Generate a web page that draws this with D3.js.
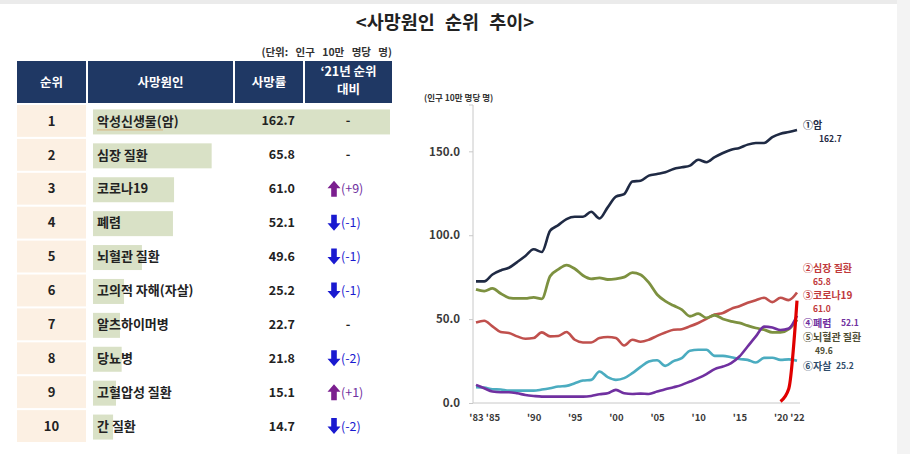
<!DOCTYPE html>
<html>
<head>
<meta charset="utf-8">
<script src="https://cdn.jsdelivr.net/npm/d3@7"></script>
<style>
  body { margin: 0; background: #fff; }
  svg { display: block; font-family: "Noto Sans CJK KR", "Noto Sans", sans-serif; }
</style>
</head>
<body>
<div id="chart"></div>
<script>
'use strict';

// ---- table data ----
const ranks = [1, 2, 3, 4, 5, 6, 7, 8, 9, 10];
const causes = ["악성신생물(암)", "심장 질환", "코로나19", "폐렴", "뇌혈관 질환",
    "고의적 자해(자살)", "알츠하이머병", "당뇨병", "고혈압성 질환", "간 질환"];
const rates = ["162.7", "65.8", "61.0", "52.1", "49.6", "25.2", "22.7", "21.8", "15.1", "14.7"];
const changes = ["-", "-", "+9", "-1", "-1", "-1", "-", "-2", "+1", "-2"];
// length of the green data bar behind each cause, as drawn (rate units)
const barLevels = [162.7, 65, 44.4, 43.8, 26.8, 17, 14.8, 15.7, 12.6, 11];
const headers = [["순위"], ["사망원인"], ["사망률"], ["‘21년 순위", "대비"]];

// ---- line chart data ----
const years = [1983, 1984, 1985, 1986, 1987, 1988, 1989, 1990, 1991, 1992,
    1993, 1994, 1995, 1996, 1997, 1998, 1999, 2000, 2001, 2002,
    2003, 2004, 2005, 2006, 2007, 2008, 2009, 2010, 2011, 2012,
    2013, 2014, 2015, 2016, 2017, 2018, 2019, 2020, 2021, 2022];
const cancer = [72.5, 72.5, 76.6, 79, 80.6, 84, 87.6, 91.6, 90, 102.6,
    106, 109.6, 111, 111, 114, 110, 116.6, 123, 124.5, 132,
    132.5, 135.5, 136.5, 137.5, 139.5, 140.5, 141.5, 145, 143.5, 146.5,
    149, 151, 152, 154, 155, 155, 158.5, 160.5, 161.5, 162.7];
const heart = [48, 49, 45.7, 42.3, 41.7, 39.7, 38.3, 38.7, 42.1, 39.7,
    39.9, 42.3, 37.7, 36.1, 36.1, 38.7, 39.3, 38.7, 34.3, 37.7,
    36.5, 37.7, 40, 42, 43.7, 44, 45.7, 47.7, 50.1, 52.7,
    53.7, 56.1, 57.7, 59.7, 61.3, 62.7, 60.1, 62.7, 61.3, 65.8];
const cerebro = [67.7, 66.7, 68.3, 65.3, 62.7, 62.3, 62.3, 63, 62.1, 75.6,
    79.6, 82.2, 80, 76, 74, 74.6, 73.6, 74, 75, 77.7,
    76.5, 71.7, 64.7, 60.7, 58.1, 55.7, 51.7, 53.3, 50.7, 52.3,
    50.1, 48.7, 47.7, 46.1, 44.7, 43.7, 42.1, 42.1, 44, 49.6];
const pneumonia = [10.8, 8.8, 6.8, 6.4, 6.4, 5.8, 4.8, 4.2, 3.8, 3.8,
    3.8, 3.8, 3.8, 3.8, 4.2, 5.2, 5.8, 7.8, 5.8, 5.4,
    5.6, 5.4, 6.8, 8.2, 9.4, 10.8, 12.8, 14.8, 17.2, 20.2,
    21.7, 23.8, 27.7, 33.7, 39.7, 45.5, 45, 43.5, 44.4, 52.1];
const suicide = [9.4, 9.2, 8.2, 8, 7.4, 7.4, 7.4, 7.4, 8, 8.8,
    9.8, 10.2, 11.8, 13.4, 13.8, 18.8, 15.4, 13.8, 14.8, 17.8,
    21.5, 24.7, 25.5, 22.1, 25, 26.7, 31.2, 31.7, 31.7, 28.1,
    28.1, 27.3, 26.2, 25.7, 24.1, 26.9, 27, 25.7, 26, 25.2];
const covidYears = [2020, 2021, 2022];
const covid = [0.9, 8.5, 61.0];

const yTicks = [0, 50, 100, 150];
const xTickYears = [1983, 1985, 1990, 1995, 2000, 2005, 2010, 2015, 2020, 2022];
const xTickLabels = ["'83", "'85", "'90", "'95", "'00", "'05", "'10", "'15", "'20", "'22"];

const width = 910;
const height = 454;

const svg = d3.select("#chart")
    .append("svg")
    .attr("width", width)
    .attr("height", height);

// page frame (light grey strips of the screenshot)
svg.append("rect").attr("x", 0).attr("y", 0).attr("width", width).attr("height", 4).attr("fill", "#ebebeb");
svg.append("rect").attr("x", 897).attr("y", 0).attr("width", 13).attr("height", height).attr("fill", "#f3f3f3");

// title
svg.append("text")
    .attr("x", 445).attr("y", 29)
    .attr("text-anchor", "middle")
    .attr("font-size", 18.5).attr("font-weight", 700)
    .attr("word-spacing", 6)
    .attr("fill", "#222")
    .text("<사망원인 순위 추이>");

// ================= table =================
const cols = [
    { x0: 17, x1: 86 },
    { x0: 88, x1: 233 },
    { x0: 235, x1: 303 },
    { x0: 305, x1: 392 }
];

svg.append("text")
    .attr("x", 392).attr("y", 56)
    .attr("text-anchor", "end")
    .attr("font-size", 10.5).attr("font-weight", 700)
    .attr("word-spacing", 5)
    .attr("fill", "#333")
    .text("(단위: 인구 10만 명당 명)");

const header = svg.append("g").attr("class", "table-header");
header.selectAll("rect")
    .data(cols)
    .join("rect")
    .attr("x", d => d.x0)
    .attr("y", 61)
    .attr("width", d => d.x1 - d.x0)
    .attr("height", 42)
    .attr("fill", "#1f3864");

headers.forEach((lines, i) => {
    const cx = (cols[i].x0 + cols[i].x1) / 2;
    const t = header.append("text")
        .attr("text-anchor", "middle")
        .attr("font-size", 12.5).attr("font-weight", 700)
        .attr("fill", "#fff");
    if (lines.length === 1) {
        t.append("tspan").attr("x", cx).attr("y", 87).text(lines[0]);
    } else {
        t.append("tspan").attr("x", cx).attr("y", 76).text(lines[0]);
        t.append("tspan").attr("x", cx).attr("y", 94).text(lines[1]);
    }
});

const rowScale = d3.scaleBand()
    .domain(ranks)
    .range([105, 442])
    .paddingInner(0.06);

const barScale = d3.scaleLinear()
    .domain([0, 162.7])
    .range([0, 297]);

const rowCenter = d => rowScale(d) + rowScale.bandwidth() / 2;

const body = svg.append("g").attr("class", "table-body");

// rank cells
body.selectAll("rect.rank")
    .data(ranks)
    .join("rect")
    .attr("class", "rank")
    .attr("x", cols[0].x0)
    .attr("y", d => rowScale(d))
    .attr("width", cols[0].x1 - cols[0].x0)
    .attr("height", rowScale.bandwidth())
    .attr("fill", "#fcf0e3");

body.selectAll("text.rank")
    .data(ranks)
    .join("text")
    .attr("class", "rank")
    .attr("x", (cols[0].x0 + cols[0].x1) / 2)
    .attr("y", d => rowCenter(d))
    .attr("dy", "0.36em")
    .attr("text-anchor", "middle")
    .attr("font-size", 13).attr("font-weight", 700)
    .attr("fill", "#222")
    .text(d => d);

// data bars
body.selectAll("rect.bar")
    .data(barLevels)
    .join("rect")
    .attr("class", "bar")
    .attr("x", 93)
    .attr("y", (d, i) => rowCenter(ranks[i]) - 11.5)
    .attr("width", d => barScale(d))
    .attr("height", 25)
    .attr("fill", "#d9e1c6");

body.selectAll("text.cause")
    .data(causes)
    .join("text")
    .attr("class", "cause")
    .attr("x", 97)
    .attr("y", (d, i) => rowCenter(ranks[i]))
    .attr("dy", "0.36em")
    .attr("font-size", 13).attr("font-weight", 700)
    .attr("fill", "#222")
    .text(d => d);

// spell-check squiggle under the first cause
body.append("line")
    .attr("x1", 97).attr("x2", 163)
    .attr("y1", rowCenter(1) + 9).attr("y2", rowCenter(1) + 9)
    .attr("stroke", "#d6a565").attr("stroke-width", 1).attr("opacity", 0.8);

body.selectAll("text.rate")
    .data(rates)
    .join("text")
    .attr("class", "rate")
    .attr("x", 295)
    .attr("y", (d, i) => rowCenter(ranks[i]))
    .attr("dy", "0.36em")
    .attr("text-anchor", "end")
    .attr("font-size", 12.5).attr("font-weight", 700)
    .attr("fill", "#222")
    .text(d => d);

// rank change column
const upColor = "#7b1f8f";
const downColor = "#1a1ad0";
const upArrow = "M0,-8 L6.5,-0.5 L2.8,-0.5 L2.8,8 L-2.8,8 L-2.8,-0.5 L-6.5,-0.5 Z";
const downArrow = "M0,8 L6.5,0.5 L2.8,0.5 L2.8,-8 L-2.8,-8 L-2.8,0.5 L-6.5,0.5 Z";

changes.forEach((c, i) => {
    const cy = rowCenter(ranks[i]);
    if (c === "-") {
        body.append("text")
            .attr("x", 348).attr("y", cy).attr("dy", "0.36em")
            .attr("text-anchor", "middle")
            .attr("font-size", 12.5).attr("font-weight", 700)
            .attr("fill", "#222")
            .text("-");
        return;
    }
    const up = c[0] === "+";
    const color = up ? upColor : downColor;
    body.append("path")
        .attr("d", up ? upArrow : downArrow)
        .attr("transform", `translate(334,${cy})`)
        .attr("fill", color);
    body.append("text")
        .attr("x", 341).attr("y", cy).attr("dy", "0.36em")
        .attr("font-size", 12.5)
        .attr("fill", up ? "#7030a0" : downColor)
        .text(`(${c})`);
});

// ================= line chart =================
const xScale = d3.scaleLinear()
    .domain([1983, 2022])
    .range([476, 797]);

const yScale = d3.scaleLinear()
    .domain([0, 180])
    .range([403, 101]);

const chart = svg.append("g").attr("class", "line-chart");

// axes
const yAxis = d3.axisLeft(yScale)
    .tickValues(yTicks)
    .tickSize(4)
    .tickFormat(d3.format(".1f"));

chart.append("g")
    .attr("class", "axis y-axis")
    .attr("transform", "translate(473,0)")
    .call(yAxis)
    .call(g => g.select(".domain").attr("stroke", "#c8c8c8").attr("d", "M-4,105H0V403"))
    .call(g => g.selectAll(".tick line").attr("stroke", "#c8c8c8"))
    .call(g => g.selectAll(".tick text")
        .attr("x", -13)
        .attr("font-family", "'Noto Sans CJK KR', sans-serif")
        .attr("font-size", 11.5).attr("font-weight", 700)
        .attr("fill", "#3a3a3a"));

const xAxis = d3.axisBottom(xScale)
    .tickValues(xTickYears)
    .tickSize(0)
    .tickFormat((d, i) => xTickLabels[i]);

chart.append("g")
    .attr("class", "axis x-axis")
    .attr("transform", "translate(0,403)")
    .call(xAxis)
    .call(g => g.select(".domain").attr("stroke", "#c8c8c8").attr("d", "M473,0H800"))
    .call(g => g.selectAll(".tick text")
        .attr("y", 11)
        .attr("font-family", "'Noto Sans CJK KR', sans-serif")
        .attr("font-size", 9.5).attr("font-weight", 700)
        .attr("fill", "#3a3a3a"));

chart.append("text")
    .attr("x", 424).attr("y", 101)
    .attr("font-size", 8.5).attr("font-weight", 700)
    .attr("fill", "#333")
    .text("(인구 10만 명당 명)");

const line = d3.line()
    .x(d => xScale(d[0]))
    .y(d => yScale(d[1]))
    .curve(d3.curveMonotoneX);

const series = [
    { values: heart, color: "#c0504d", w: 2.6 },
    { values: cerebro, color: "#7d9140", w: 2.8 },
    { values: suicide, color: "#4bacc0", w: 2.6 },
    { values: pneumonia, color: "#7030a0", w: 2.6 },
    { values: cancer, color: "#1f2a44", w: 2.6 }
];

chart.selectAll("path.series")
    .data(series)
    .join("path")
    .attr("class", "series")
    .attr("fill", "none")
    .attr("stroke", d => d.color)
    .attr("stroke-width", d => d.w)
    .attr("stroke-linejoin", "round")
    .attr("d", d => line(years.map((y, i) => [y, d.values[i]])));

chart.append("path")
    .attr("fill", "none")
    .attr("stroke", "#e00000")
    .attr("stroke-width", 3.2)
    .attr("d", line(covidYears.map((y, i) => [y, covid[i]])));

// end labels: name, with the value below it or beside it
const labelX = 803;
const endLabels = [
    { text: "①암", value: "162.7", color: "#1f2a44", y: 125, vx: 819, vy: 139 },
    { text: "②심장 질환", value: "65.8", color: "#c0393b", y: 268.5, vx: 813, vy: 282 },
    { text: "③코로나19", value: "61.0", color: "#c0393b", y: 295.5, vx: 813, vy: 309 },
    { text: "④폐렴", value: "52.1", color: "#7030a0", y: 323, vx: 841, vy: 323 },
    { text: "⑤뇌혈관 질환", value: "49.6", color: "#4d4d33", y: 337, vx: 815, vy: 350.5 },
    { text: "⑥자살", value: "25.2", color: "#2f4d6b", y: 366, vx: 836, vy: 366 }
];

const lab = chart.append("g").attr("class", "end-labels");
lab.selectAll("text.name")
    .data(endLabels)
    .join("text")
    .attr("class", "name")
    .attr("x", labelX)
    .attr("y", d => d.y)
    .attr("dy", "0.36em")
    .attr("font-size", 10).attr("font-weight", 700)
    .attr("fill", d => d.color)
    .text(d => d.text);

lab.selectAll("text.value")
    .data(endLabels)
    .join("text")
    .attr("class", "value")
    .attr("x", d => d.vx)
    .attr("y", d => d.vy)
    .attr("dy", "0.36em")
    .attr("font-size", 8.5).attr("font-weight", 700)
    .attr("fill", d => d.color)
    .text(d => d.value);
</script>
</body>
</html>
